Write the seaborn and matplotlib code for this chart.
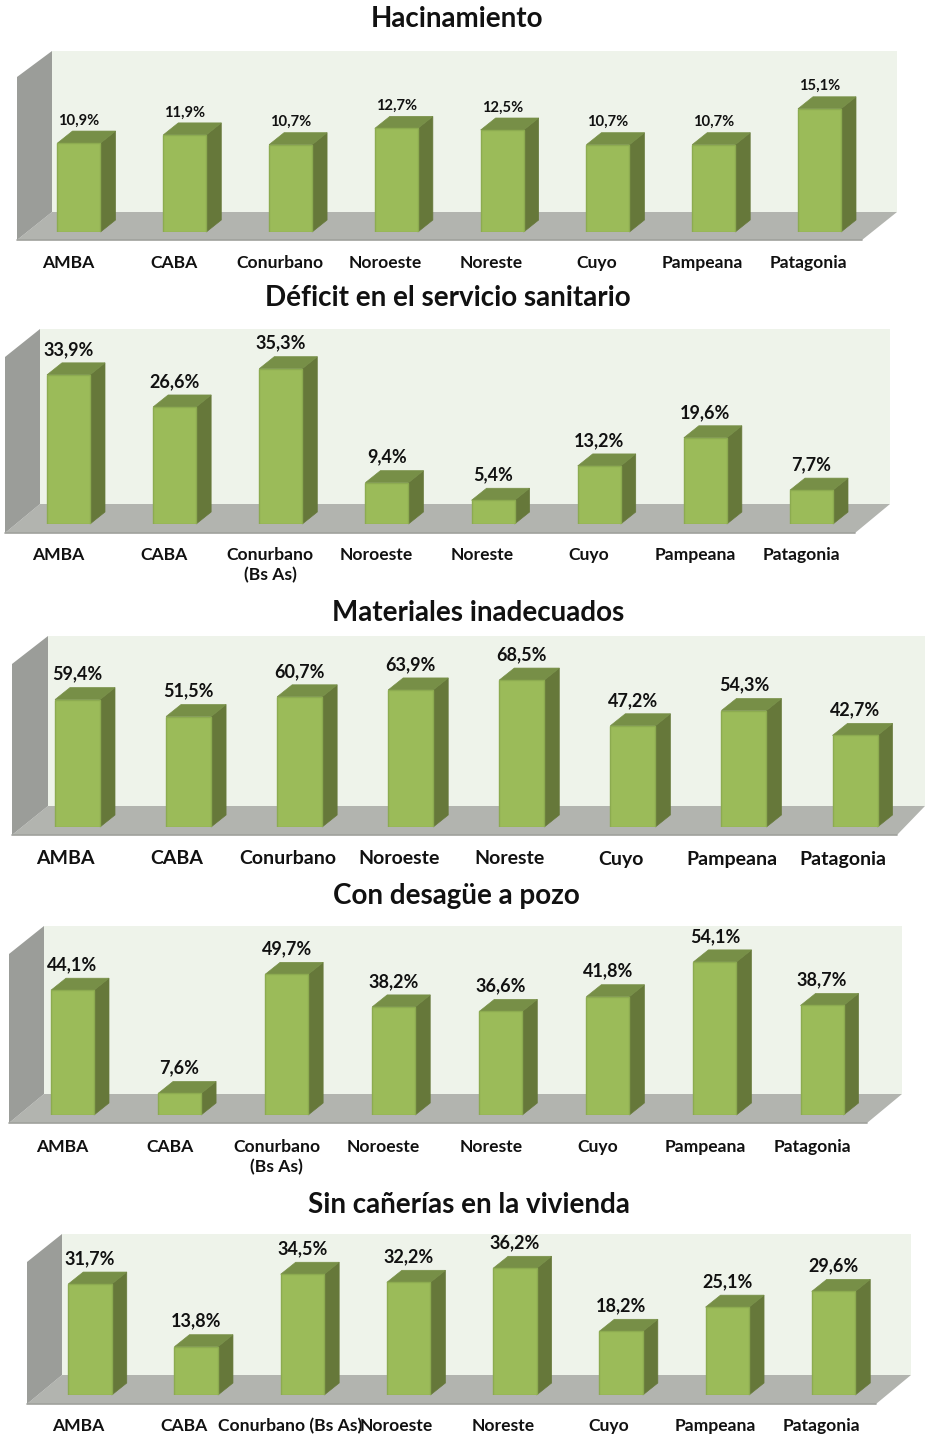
import matplotlib
matplotlib.use("Agg")
import matplotlib.pyplot as plt
from matplotlib.patches import Polygon
from matplotlib.transforms import Bbox
import pandas as pd
import seaborn as sns

W, H = 925, 1437
FRONT, SIDE, TOP = "#9BBB59", "#66783A", "#778F47"
EDGE = "#8CAB50"
WALL, FLOOR, LEFT = "#EEF3EA", "#B2B4AF", "#9B9D99"

regions = ["AMBA", "CABA", "Conurbano", "Noroeste", "Noreste", "Cuyo", "Pampeana", "Patagonia"]
regions_two_lines = ["AMBA", "CABA", "Conurbano\n(Bs As)", "Noroeste", "Noreste", "Cuyo", "Pampeana", "Patagonia"]
regions_one_line = ["AMBA", "CABA", "Conurbano (Bs As)", "Noroeste", "Noreste", "Cuyo", "Pampeana", "Patagonia"]

hacinamiento = [10.9, 11.9, 10.7, 12.7, 12.5, 10.7, 10.7, 15.1]
deficit = [33.9, 26.6, 35.3, 9.4, 5.4, 13.2, 19.6, 7.7]
materiales = [59.4, 51.5, 60.7, 63.9, 68.5, 47.2, 54.3, 42.7]
desague = [44.1, 7.6, 49.7, 38.2, 36.6, 41.8, 54.1, 38.7]
sin_canerias = [31.7, 13.8, 34.5, 32.2, 36.2, 18.2, 25.1, 29.6]

# layout only, in reference pixels
panels = [
    dict(title="Hacinamiento", tx=457, ty=27, cats=regions, vals=hacinamiento,
         wall=(52, 897, 51, 212), front=(17, 862, 77, 240), c0=79, c7=819.5, bw=43, base=232, scale=8.16,
         tick_dx=-11, tick_y=264, tick_fs=12.6, val_fs=10.6, pad=3.5, clip=272),
    dict(title="Déficit en el servicio sanitario", tx=448, ty=306, cats=regions_two_lines, vals=deficit,
         wall=(40, 890, 329, 504), front=(5, 855, 357, 533), c0=68.5, c7=811.5, bw=43, base=524, scale=4.4,
         tick_dx=-10.5, tick_y=556, tick_fs=12.6, val_fs=13, pad=5, clip=None),
    dict(title="Materiales inadecuados", tx=478, ty=621, cats=regions, vals=materiales,
         wall=(48, 925, 636, 806), front=(12, 897, 664, 835), c0=77.5, c7=855, bw=45, base=827, scale=2.145,
         tick_dx=-12, tick_y=861, tick_fs=14, val_fs=13, pad=5, clip=869),
    dict(title="Con desagüe a pozo", tx=456, ty=904, cats=regions_two_lines, vals=desague,
         wall=(44, 902, 926, 1094), front=(9, 867, 954, 1123), c0=72.5, c7=822, bw=43, base=1115, scale=2.83,
         tick_dx=-10, tick_y=1148, tick_fs=12.6, val_fs=13, pad=5, clip=None),
    dict(title="Sin cañerías en la vivienda", tx=469, ty=1213, cats=regions_one_line, vals=sin_canerias,
         wall=(62, 911, 1234, 1375), front=(27, 876, 1262, 1404), c0=90, c7=833.5, bw=43.5, base=1395, scale=3.5,
         tick_dx=-12, tick_y=1427, tick_fs=12.6, val_fs=13, pad=5, clip=None),
]

sns.set_theme(style="white")
plt.rcParams["font.family"] = ["Lato", "DejaVu Sans"]
plt.rcParams["font.weight"] = "bold"

fig = plt.figure(figsize=(W / 100, H / 100), dpi=100, facecolor="white")

bg = fig.add_axes([0, 0, 1, 1], zorder=0)
bg.set_xlim(0, W)
bg.set_ylim(H, 0)
bg.axis("off")

DX, DY = 15, 12

for p in panels:
    xl, xr, yt, yb = p["wall"]
    fl, fr, ft, fb = p["front"]
    bg.add_patch(Polygon([(xl, yt), (xr, yt), (xr, yb), (xl, yb)], fc=WALL, ec="none"))
    bg.add_patch(Polygon([(xl, yb), (xr, yb), (fr, fb), (fl, fb)], fc=FLOOR, ec="none"))
    bg.add_patch(Polygon([(fl, ft), (xl, yt), (xl, yb), (fl, fb)], fc=LEFT, ec="none"))
    bg.plot([fl, fr], [fb, fb], color="#9FA19C", lw=1.2)

    sp = (p["c7"] - p["c0"]) / 7
    left = p["c0"] - sp / 2
    right = p["c7"] + sp / 2
    ax = fig.add_axes([left / W, 1 - p["base"] / H, (right - left) / W, (p["base"] - yt) / H], zorder=1)
    ax.patch.set_alpha(0)

    df = pd.DataFrame({"region": p["cats"], "value": p["vals"]})
    sns.barplot(data=df, x="region", y="value", order=p["cats"], color=FRONT, saturation=1,
                width=p["bw"] / sp, edgecolor=EDGE, linewidth=1, ax=ax, zorder=3)
    ax.set_xlim(-0.5, 7.5)
    ax.set_ylim(0, (p["base"] - yt) / p["scale"])

    dx = DX / sp
    dy = DY / p["scale"]
    for bar in ax.patches[:len(p["vals"])]:
        x, w, h = bar.get_x(), bar.get_width(), bar.get_height()
        ax.add_patch(Polygon([(x + w, 0), (x + w + dx, dy), (x + w + dx, h + dy), (x + w, h)],
                             fc=SIDE, ec=SIDE, lw=0.5, zorder=2, clip_on=False))
        ax.add_patch(Polygon([(x, h), (x + dx, h + dy), (x + w + dx, h + dy), (x + w, h)],
                             fc=TOP, ec=TOP, lw=0.5, zorder=2, clip_on=False))

    labels = [f"{v:.1f}%".replace(".", ",") for v in p["vals"]]
    for t in ax.bar_label(ax.containers[0], labels=labels, padding=(DY + p["pad"]) * 0.72,
                          fontsize=p["val_fs"], fontweight="bold", color="#111111", zorder=5):
        t.set_clip_on(False)

    ticks = [i + p["tick_dx"] / sp for i in range(8)]
    ax.set_xticks(ticks, p["cats"])
    ax.tick_params(axis="x", length=0, pad=(p["tick_y"] - p["tick_fs"] * 0.75 - p["base"]) * 0.72,
                   labelsize=p["tick_fs"], labelcolor="#111111")
    for lab in ax.get_xticklabels():
        lab.set_fontweight("bold")
        lab.set_linespacing(1.35)
        if p["clip"]:
            lab.set_clip_on(True)
            lab.set_clip_box(Bbox([[0, H - p["clip"]], [W, H]]))
    ax.set_yticks([])
    ax.set_xlabel("")
    ax.set_ylabel("")
    sns.despine(ax=ax, left=True, bottom=True)

    ax.set_title(p["title"], fontsize=20, fontweight="bold", color="#111111", va="center",
                 x=(p["tx"] - left) / (right - left),
                 y=(p["base"] - p["ty"]) / (p["base"] - yt))

fig.savefig("out.png", dpi=100)
